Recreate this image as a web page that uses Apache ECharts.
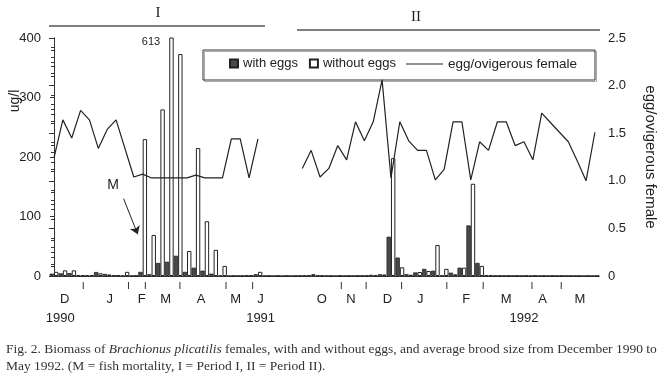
<!DOCTYPE html>
<html>
<head>
<meta charset="utf-8">
<script src="https://cdn.jsdelivr.net/npm/echarts@6/dist/echarts.min.js"></script>
<style>
  html, body { margin: 0; padding: 0; background: #fff; }
  #chart { width: 666px; height: 388px; }
</style>
</head>
<body>
<div id="chart"></div>
<script>
// biomass (ug/l) per sample, index 0..61
const withEggs = [4, 4.5, 5, 1.5, 1.5, 6.7, 3.5, 1.5, 0.5, 0.5, 7, 3, 22, 24, 34, 7, 14, 9, 4, 1,
  0.3, 0.5, 1.5, 3, 0.5, 0.3, 0.3, 0.3, 1, 1.5, 1, 0.5, 0.3, 0.5, 0.5, 1, 2, 3, 66, 31,
  3, 6, 12, 9, 1, 5.6, 14, 85, 22, 1.5, 0.8, 0.6, 0.5, 0.5, 0.5, 0.5, 0.5, 0.5, 0.4, 0.4, 0.3, 0.3]
const withoutEggs = [7, 9.5, 9.5, 1, 1.5, 4.5, 2.5, 1, 7, 0.5, 230, 69, 280, 613, 373, 42, 215, 92, 44, 17,
  0.3, 0.3, 1, 7, 0.3, 0.3, 0.3, 0.3, 0.5, 3, 0.5, 0.3, 0.5, 0.3, 0.5, 0.5, 1.5, 2.5, 198, 14.6,
  2, 6.7, 8.4, 52, 12, 2.8, 14, 155, 17, 1, 0.5, 0.5, 0.5, 0.5, 0.4, 0.4, 0.4, 0.4, 0.3, 0.3, 0.3, 0.3]

// egg/ovigerous female
const broodIdxI = [0, 1, 2, 3, 4, 5, 6, 7, 9, 10, 11, 12, 13, 14, 15, 16, 17, 18, 19, 20, 21, 22, 23]
const broodI = [1.24, 1.64, 1.45, 1.74, 1.64, 1.34, 1.54, 1.64, 1.04, 1.07, 1.03, 1.03, 1.03, 1.03, 1.03, 1.06, 1.03, 1.03, 1.03, 1.44, 1.44, 1.03, 1.44]
const broodIdxII = [28, 29, 30, 31, 32, 33, 34, 35, 36, 37, 38, 39, 40, 41, 42, 43, 44, 45, 46, 47, 48, 49, 50, 51, 52, 53, 54, 55, 56, 57, 58, 59, 60, 61]
const broodII = [1.13, 1.32, 1.04, 1.13, 1.37, 1.22, 1.62, 1.42, 1.62, 2.06, 1.03, 1.62, 1.42, 1.32, 1.32, 1.01, 1.12, 1.62, 1.62, 1.01, 1.41, 1.32, 1.62, 1.62, 1.37, 1.41, 1.22, 1.71, 1.61, 1.51, 1.41, 1.21, 1.0, 1.51]

// x axis (sample index): month boundaries and labels
const monthTicks = [3.3, 8.4, 10.3, 14.2, 19.4, 22.4, 32.4, 35.2, 39.2, 44.3, 48.4, 53.9, 57.2]
const monthPos = [1.2, 6.3, 9.9, 12.6, 16.6, 20.5, 23.3, 30.2, 33.5, 37.6, 41.3, 46.5, 51.0, 55.1, 59.3]
const monthNames = ['D', 'J', 'F', 'M', 'A', 'M', 'J', 'O', 'N', 'D', 'J', 'F', 'M', 'A', 'M']
const yearPos = [0.7, 23.3, 53.0]
const yearNames = ['1990', '1991', '1992']

const X_MIN = -0.45
const X_MAX = 61.46
const sans = '"Liberation Sans", Arial, sans-serif'
const serif = '"Liberation Serif", "Times New Roman", serif'
const ink = '#222'

const chart = echarts.init(document.getElementById('chart'))

function pairs(xs, ys) {
  return xs.map((x, i) => [x, ys[i]])
}
const idx = withEggs.map((_, i) => i)

const lineStyle = { color: ink, width: 1.2 }

// month boundary ticks, hanging a little below the x axis
function renderTick(params, api) {
  const p = api.coord([api.value(0), 0])
  return {
    type: 'line',
    shape: { x1: p[0], y1: p[1] + 6, x2: p[0], y2: p[1] + 13 },
    style: { stroke: '#333', lineWidth: 1 }
  }
}

const option = {
  animation: false,
  backgroundColor: '#fff',
  grid: { left: 50, right: 65, top: 38, bottom: 112 },
  legend: [
    {
      data: [
        { name: 'with eggs', icon: 'rect' },
        { name: 'without eggs', icon: 'rect' }
      ],
      left: 229, top: 57, padding: 0,
      itemWidth: 8, itemHeight: 8, itemGap: 11,
      textStyle: { fontFamily: sans, fontSize: 13, color: ink }
    },
    {
      data: [{ name: 'egg/ovigerous female', icon: 'rect', itemStyle: { color: ink } }],
      left: 406, top: 57, padding: 0,
      itemWidth: 37, itemHeight: 1.2,
      textStyle: { fontFamily: sans, fontSize: 13.5, color: ink }
    }
  ],
  xAxis: [
    {
      type: 'value', min: X_MIN, max: X_MAX,
      axisLine: { lineStyle: { color: '#333', width: 1 } },
      axisTick: { show: false }, axisLabel: { show: false }, splitLine: { show: false }
    },
    {
      type: 'value', min: X_MIN, max: X_MAX, position: 'bottom', offset: 6,
      axisLine: { show: false }, axisTick: { show: false },
      axisLabel: {
        interval: 0, customValues: monthPos, margin: 11, color: ink, fontFamily: sans, fontSize: 13,
        formatter: v => monthNames[monthPos.indexOf(v)]
      },
      splitLine: { show: false }
    },
    {
      type: 'value', min: X_MIN, max: X_MAX, position: 'bottom', offset: 0,
      axisLine: { show: false }, axisTick: { show: false },
      axisLabel: {
        interval: 0, customValues: yearPos, margin: 36, color: ink, fontFamily: sans, fontSize: 13,
        formatter: v => yearNames[yearPos.indexOf(v)]
      },
      splitLine: { show: false }
    }
  ],
  yAxis: [
    {
      type: 'value', min: 0, max: 400, interval: 100,
      axisLine: { show: true, lineStyle: { color: '#333' } },
      axisTick: { show: true, length: 4, lineStyle: { color: '#333' } },
      minorTick: { show: true, splitNumber: 5, length: 3, lineStyle: { color: '#333' } },
      axisLabel: { color: ink, fontFamily: sans, fontSize: 13, margin: 9 },
      splitLine: { show: false }
    },
    {
      type: 'value', min: 0, max: 2.5, interval: 0.5, position: 'right',
      name: 'egg/ovigerous female', nameLocation: 'middle', nameRotate: -90, nameGap: 44,
      nameTextStyle: { color: ink, fontFamily: sans, fontSize: 15 },
      axisLine: { show: true, lineStyle: { color: '#333' } },
      axisTick: { show: true, inside: true, length: 5, lineStyle: { color: '#333' } },
      minorTick: { show: true, splitNumber: 5, length: 3, lineStyle: { color: '#333' } },
      axisLabel: {
        color: ink, fontFamily: sans, fontSize: 13, margin: 9,
        formatter: v => (v === 0 ? '0' : v.toFixed(1))
      },
      splitLine: { show: false }
    }
  ],
  series: [
    {
      name: 'with eggs', type: 'bar', xAxisIndex: 0, yAxisIndex: 0,
      data: pairs(idx, withEggs),
      barWidth: 4.4, barGap: '0%',
      itemStyle: { color: '#4a4a4a', borderColor: ink, borderWidth: 0.8 }
    },
    {
      name: 'without eggs', type: 'bar', xAxisIndex: 0, yAxisIndex: 0,
      data: pairs(idx, withoutEggs),
      barWidth: 4.4, barGap: '0%',
      itemStyle: { color: '#fff', borderColor: ink, borderWidth: 1 },
      markLine: {
        silent: true, symbol: ['none', 'arrow'], symbolSize: 8,
        label: { show: false },
        lineStyle: { color: ink, width: 1, type: 'solid' },
        data: [[{ coord: [7.6, 130] }, { coord: [9.2, 70] }]]
      }
    },
    {
      name: 'egg/ovigerous female', type: 'line', xAxisIndex: 0, yAxisIndex: 1,
      data: pairs(broodIdxI, broodI), symbol: 'none', lineStyle, itemStyle: { color: ink }
    },
    {
      name: 'egg/ovigerous female', type: 'line', xAxisIndex: 0, yAxisIndex: 1,
      data: pairs(broodIdxII, broodII), symbol: 'none', lineStyle, itemStyle: { color: ink }
    },
    {
      name: 'month ticks', type: 'custom', xAxisIndex: 0, yAxisIndex: 0,
      silent: true, clip: false,
      data: monthTicks.map(t => [t, 0]),
      renderItem: renderTick
    }
  ],
  graphic: [
    { type: 'text', x: 158, y: 13, style: { text: 'I', font: '15px ' + serif, fill: ink, align: 'center', verticalAlign: 'middle' } },
    { type: 'line', shape: { x1: 49, y1: 26, x2: 265, y2: 26 }, style: { stroke: '#555', lineWidth: 1.3 } },
    { type: 'text', x: 416, y: 17, style: { text: 'II', font: '15px ' + serif, fill: ink, align: 'center', verticalAlign: 'middle' } },
    { type: 'line', shape: { x1: 297, y1: 30, x2: 600, y2: 30 }, style: { stroke: '#555', lineWidth: 1.3 } },
    { type: 'rect', shape: { x: 204.5, y: 51.5, width: 392, height: 30 }, style: { fill: 'none', stroke: '#aaa', lineWidth: 1 } },
    { type: 'rect', shape: { x: 203, y: 50, width: 392, height: 30 }, style: { fill: 'none', stroke: '#333', lineWidth: 1 } },
    { type: 'text', x: 15, y: 101, rotation: Math.PI / 2, style: { text: 'ug/l', font: '14px ' + sans, fill: ink, align: 'center', verticalAlign: 'middle' } },
    { type: 'text', x: 113, y: 185, style: { text: 'M', font: '14px ' + sans, fill: ink, align: 'center', verticalAlign: 'middle' } },
    { type: 'text', x: 151, y: 42, style: { text: String(withoutEggs[13]), font: '11px ' + sans, fill: ink, align: 'center', verticalAlign: 'middle' } },
    {
      type: 'text', x: 6, y: 349,
      style: {
        text: 'Fig. 2. Biomass of {i|Brachionus plicatilis} females, with and without eggs, and average brood size from December 1990 to',
        font: '13.5px ' + serif, fill: '#333', verticalAlign: 'middle',
        rich: { i: { fontStyle: 'italic', fontFamily: serif, fontSize: 13.5, fill: '#333' } }
      }
    },
    {
      type: 'text', x: 6, y: 366,
      style: { text: 'May 1992. (M = fish mortality, I = Period I, II = Period II).', font: '13.5px ' + serif, fill: '#333', verticalAlign: 'middle' }
    }
  ]
}

chart.setOption(option)
</script>
</body>
</html>
